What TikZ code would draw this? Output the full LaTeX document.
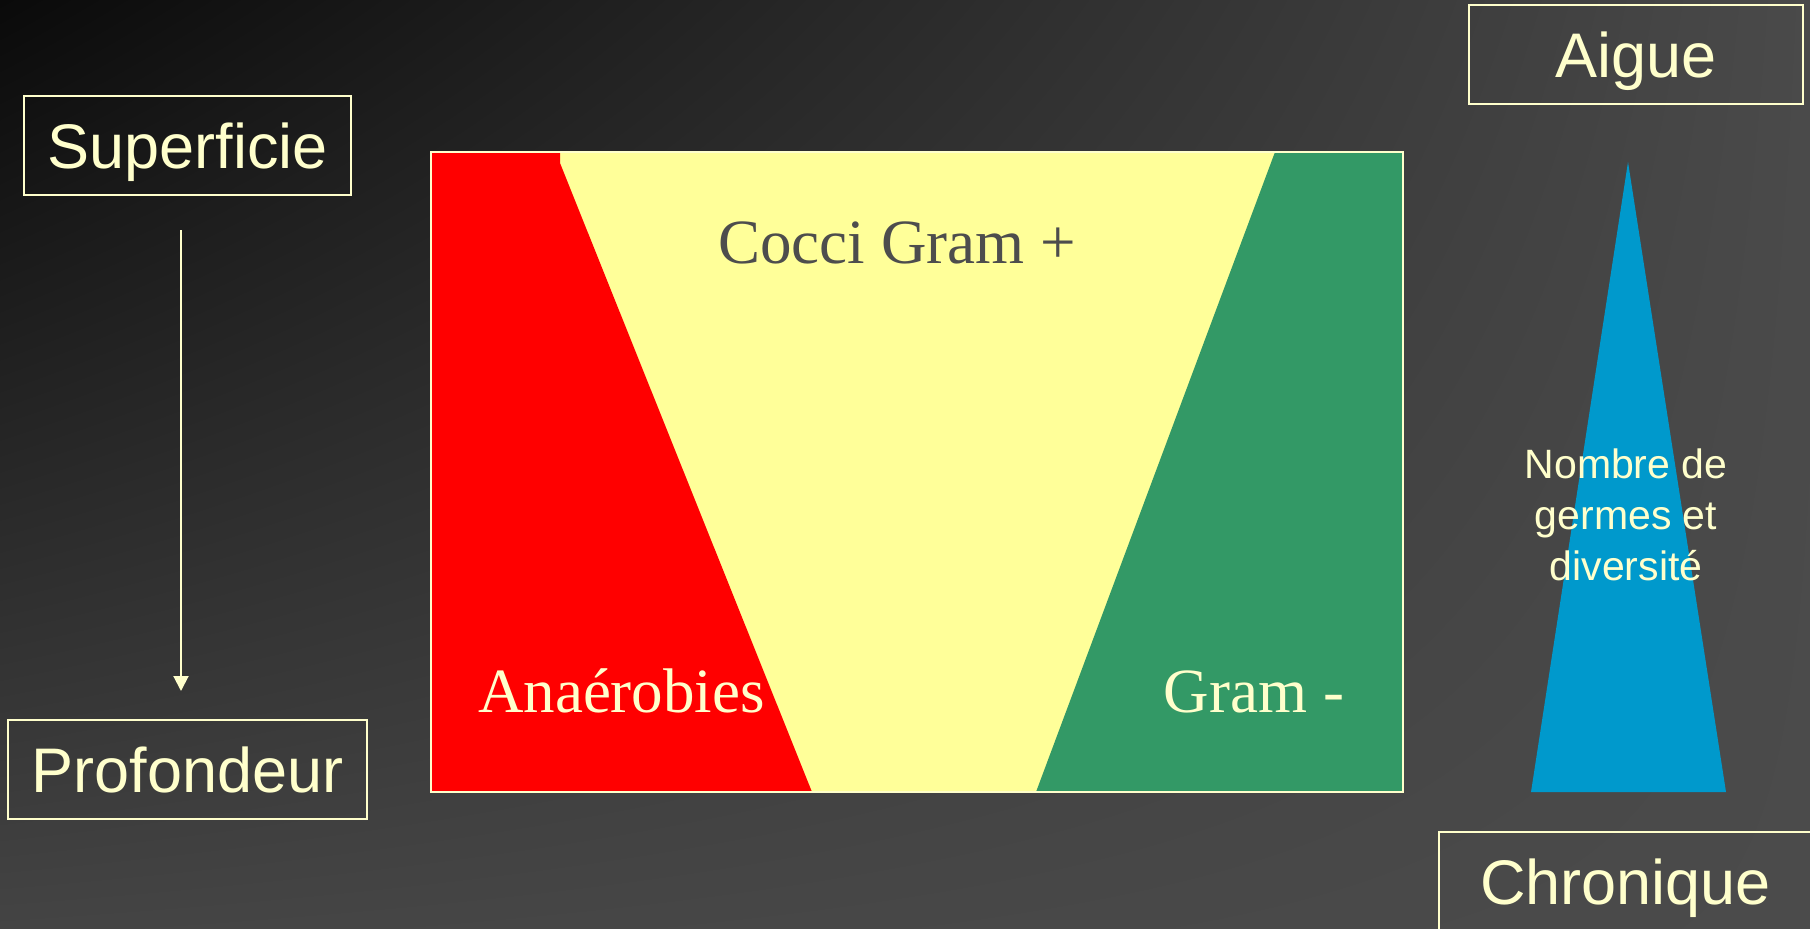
\documentclass[tikz,border=0pt]{standalone}
\usepackage{fontspec}
\setmainfont{Liberation Serif}
\newfontfamily\arialf{Liberation Sans}
\usetikzlibrary{arrows.meta,shadings}
\definecolor{cream}{HTML}{FFFFCC}
\definecolor{zred}{HTML}{FF0000}
\definecolor{zyellow}{HTML}{FFFF99}
\definecolor{zgreen}{HTML}{339966}
\definecolor{zblue}{HTML}{0099CC}
\definecolor{zgraytext}{HTML}{4D4D4D}
\definecolor{bgUL}{HTML}{0A0A0A}
\definecolor{bgUR}{HTML}{4A4A4A}
\definecolor{bgLL}{HTML}{444444}
\definecolor{bgLR}{HTML}{4B4B4B}
\tikzset{
  labelbox/.style={draw=cream, line width=2pt, text=cream, inner sep=0pt,
    font=\arialf\fontsize{63}{70}\selectfont, text height=46pt, text depth=0pt,
    minimum height=99pt},
  zonetext/.style={font=\fontsize{63}{70}\selectfont, anchor=base, inner sep=0pt},
  downarrow/.style={draw=cream, line width=2pt, -{Triangle[width=15pt,length=15pt]}},
}
\begin{document}
\begin{tikzpicture}[x=1pt,y=-1pt]
\useasboundingbox (0,0) rectangle (1810,929);
\clip (0,0) rectangle (1810,929);
\shade[upper left=bgUL, upper right=bgUR, lower left=bgLL, lower right=bgLR] (0,0) rectangle (1810,929);

% main panel
\fill[zyellow] (431,152) rectangle (1403,792);
\fill[zred] (431,152) -- (560,152) -- (560,163) -- (812,792) -- (431,792) -- cycle;
\fill[zgreen] (1275,152) -- (1403,152) -- (1403,792) -- (1036,792) -- cycle;
\node[draw=cream, line width=1.5pt, inner sep=0pt, minimum width=972pt, minimum height=640pt] (panel) at (917,472) {};

\node[zonetext, text=zgraytext] (cocci) at (897,263) {Cocci Gram +};
\node[zonetext, text=cream] (anaer) at (621.5,712) {Anaérobies};
\node[zonetext, text=cream] (gramneg) at (1254,712) {Gram -};

% left column
\node[labelbox, minimum width=327pt] (sup) at (187.5,145.5) {Superficie};
\node[labelbox, minimum width=359pt] (prof) at (187.5,769.5) {Profondeur};
\draw[downarrow, shorten <=34pt, shorten >=28pt] ([xshift=-6.5pt]sup.south) -- ([xshift=-6.5pt]prof.north);

% right column
\node[labelbox, minimum width=334pt] (aigue) at (1636,54.5) {Aigue};
\node[labelbox, minimum width=373pt] (chron) at (1625.5,881.5) {Chronique};
\fill[zblue] (1628,162) coordinate (apex) -- (1726,792) -- (1531,792) -- cycle;
\node[text=cream, align=center, inner sep=0pt, font=\arialf\fontsize{41}{51}\selectfont] (germes) at (1626,515) {Nombre de\\germes et\\diversité};
\end{tikzpicture}
\end{document}
